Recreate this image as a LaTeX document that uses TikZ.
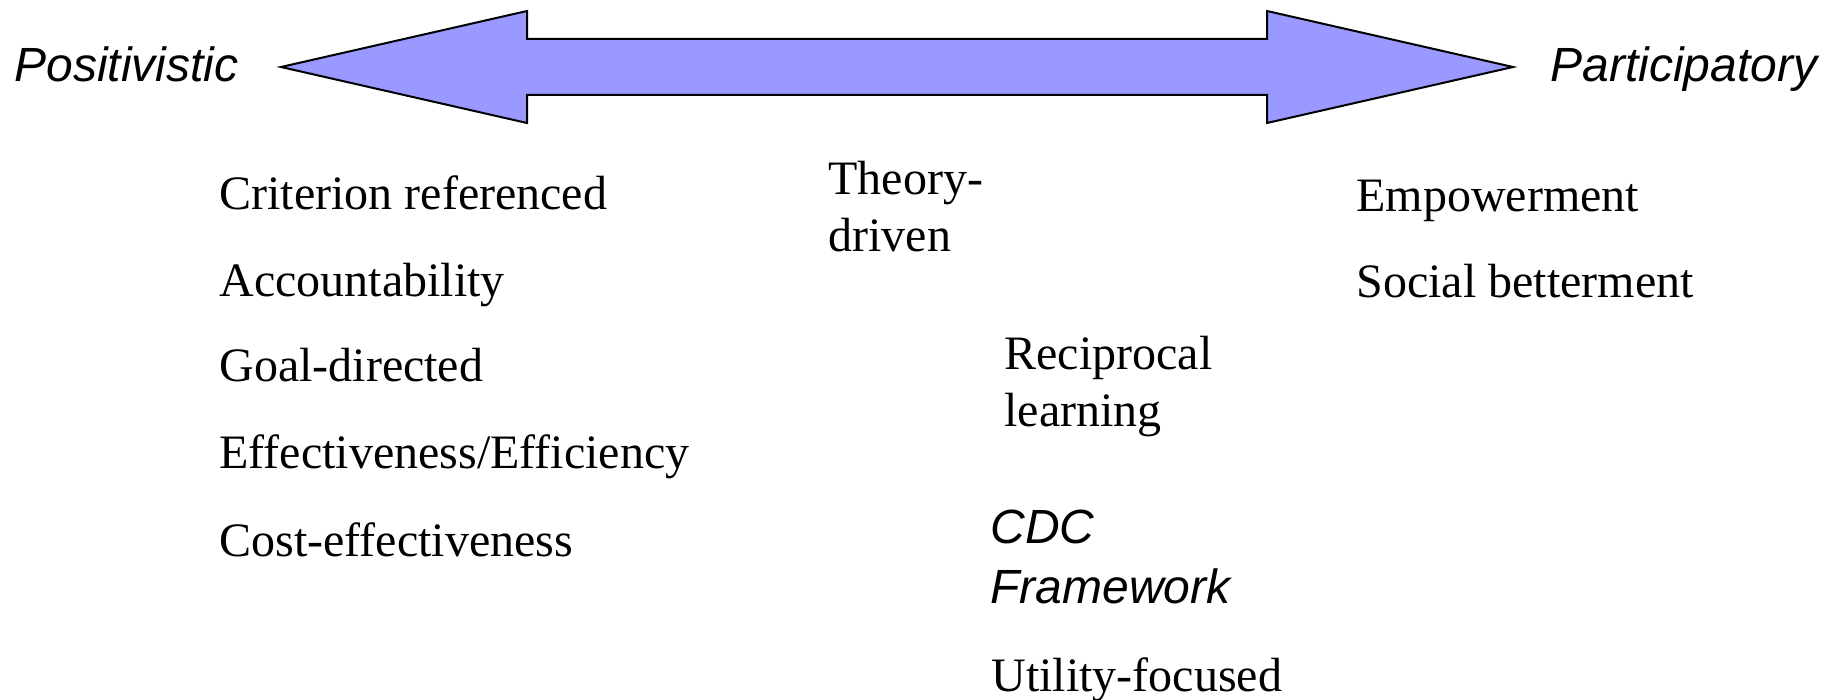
\documentclass[tikz,border=0pt]{standalone}
\usepackage{fontspec}
\setmainfont{Liberation Serif}
\newfontfamily\arialfont{Liberation Sans}
\definecolor{arrowfill}{HTML}{9999FF}
\begin{document}
\begin{tikzpicture}[x=0.5pt,y=-0.5pt,
  lbl/.style={anchor=base west, inner sep=0pt, align=left, font=\fontsize{24}{28.5}\selectfont},
  pole/.style={anchor=base west, inner sep=0pt, align=left, font=\arialfont\itshape\fontsize{24}{30}\selectfont}]
\useasboundingbox (0,0) rectangle (1843,700);
\fill[white] (0,0) rectangle (1843,700);
% double arrow
\draw[line width=1pt, fill=arrowfill, line join=miter]
  (281,67) -- (527,11) -- (527,39) -- (1267,39) -- (1267,11) -- (1513,67)
  -- (1267,123) -- (1267,95) -- (527,95) -- (527,123) -- cycle;
% poles
\node[pole] (pos) at (14,81.7) {Positivistic};
\node[pole] (par) at (1550,81.7) {Participatory};
% left column
\node[lbl] (crit) at (219,210) {Criterion referenced};
\node[lbl] (acc) at (219,296.7) {Accountability};
\node[lbl] (goal) at (219,381.7) {Goal-directed};
\node[lbl] (eff) at (219,468.3) {Effectiveness/Efficiency};
\node[lbl] (cost) at (219,556.7) {Cost-effectiveness};
% middle (base anchor = baseline of the last line)
\node[lbl] (theory) at (828,252) {Theory-\\driven};
\node[lbl] (recip) at (1004,426.7) {Reciprocal\\learning};
\node[pole] (cdc) at (990,603.3) {CDC\\Framework};
\node[lbl] (util) at (991,691.7) {Utility-focused};
% right column
\node[lbl] (emp) at (1356,211.7) {Empowerment};
\node[lbl] (soc) at (1356,297.5) {Social betterment};
\end{tikzpicture}
\end{document}
